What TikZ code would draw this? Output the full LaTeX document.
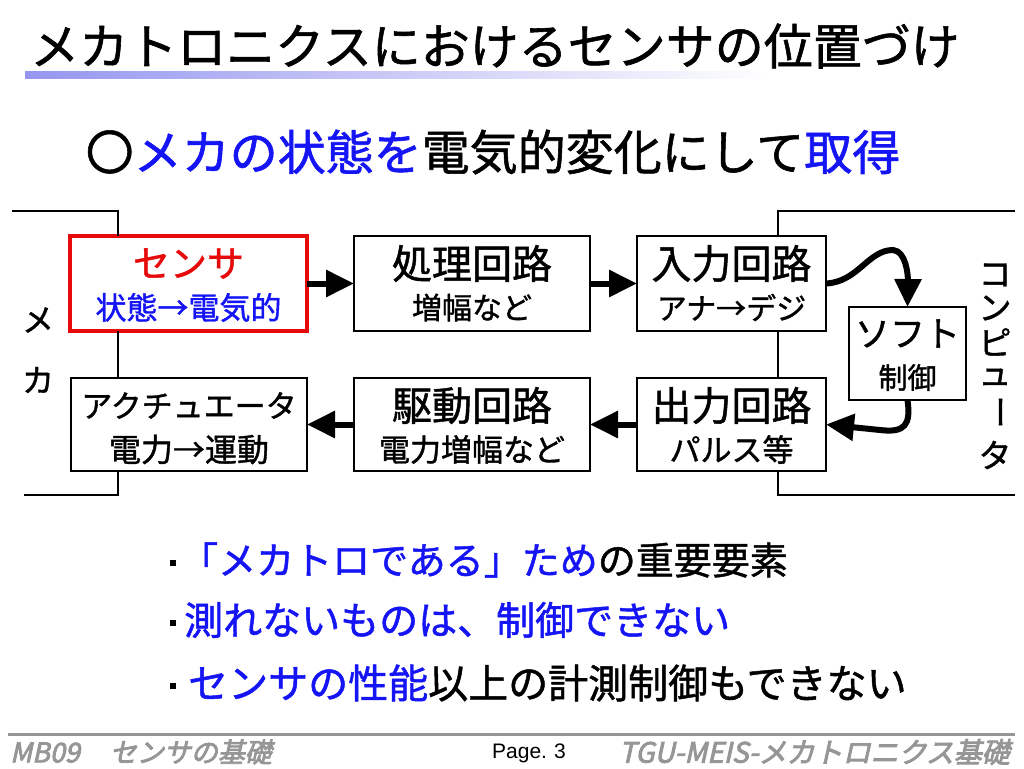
\documentclass[tikz,border=0pt]{standalone}
\usepackage{fontspec}
\setmainfont{Noto Sans CJK JP}[FakeBold=1.2]
\newfontfamily\footfont{Noto Sans CJK JP}[FakeSlant=0.22,FakeBold=3]
\newfontfamily\pagefont{Liberation Sans}
\usetikzlibrary{arrows.meta}
\definecolor{tblue}{RGB}{20,20,245}
\definecolor{tred}{RGB}{230,10,10}
\definecolor{fgray}{RGB}{150,150,150}
\definecolor{bar}{RGB}{150,150,240}
\newcommand{\fs}[1]{\fontsize{#1}{#1}\selectfont}
\begin{document}
\begin{tikzpicture}[x=1pt,y=-1pt,
  box/.style={draw,line width=2,inner sep=0,outer sep=0,minimum width=#1},
  brk/.style={line width=2},
  bigarr/.style={line width=6,-{Triangle[length=28,width=26]}},
  big/.style={inner sep=0,font=\fs{40}},
  small/.style={inner sep=0,font=\fs{30}},
  vt/.style={inner sep=0,font=\fs{33}}]
\useasboundingbox (0,0) rectangle (1024,768);
% title
\node[inner sep=0,font=\fs{49}] (title) at (495,46) {メカトロニクスにおけるセンサの位置づけ};
\shade[left color=bar,right color=white] (25,71) rectangle (770,78);
% subtitle
\node[inner sep=0,font=\fs{48}] (sub) at (493,152) {〇\textcolor{tblue}{メカの状態を}電気的変化にして\textcolor{tblue}{取得}};
% boxes
\node[box=237,minimum height=95,draw=tred,line width=3.5] (sen) at (188.5,283.5) {};
\node[box=236,minimum height=95] (proc) at (472,283.5) {};
\node[box=189,minimum height=95] (inp) at (731.5,283.5) {};
\node[box=117,minimum height=93] (soft) at (907.5,353.5) {};
\node[box=236,minimum height=93] (act) at (189,424.5) {};
\node[box=236,minimum height=93] (drv) at (472,424.5) {};
\node[box=189,minimum height=93] (out) at (731.5,424.5) {};
% box texts
\node[big,font=\fs{37},text=tred] (sen1) at ([yshift=20]sen.center) {センサ};
\node[small,font=\fs{31},text=tblue] (sen2) at ([yshift=-24]sen.center) {状態→電気的};
\node[big] (proc1) at ([yshift=20]proc.center) {処理回路};
\node[small] (proc2) at ([yshift=-24]proc.center) {増幅など};
\node[big] (inp1) at ([yshift=20]inp.center) {入力回路};
\node[small] (inp2) at ([yshift=-24]inp.center) {アナ→デジ};
\node[big,font=\fs{35}] (soft1) at ([yshift=20]soft.center) {ソフト};
\node[small,font=\fs{29}] (soft2) at ([yshift=-24]soft.center) {制御};
\node[small,font=\fs{31}] (act1) at ([yshift=19]act.center) {アクチュエータ};
\node[small,font=\fs{32}] (act2) at ([yshift=-25]act.center) {電力→運動};
\node[big] (drv1) at ([yshift=19]drv.center) {駆動回路};
\node[small,font=\fs{31}] (drv2) at ([yshift=-25]drv.center) {電力増幅など};
\node[big] (out1) at ([yshift=19]out.center) {出力回路};
\node[small,font=\fs{31}] (out2) at ([yshift=-25]out.center) {パルス等};
% brackets
\coordinate (m1) at (12,211);
\coordinate (m2) at (24,495);
\coordinate (mx) at (118,0);
\draw[brk] (m1) -| (sen.north -| mx);
\draw[brk] (sen.south -| mx) -- (act.north -| mx);
\draw[brk] (act.south -| mx) |- (m2);
\coordinate (c1) at (1015,211);
\coordinate (c2) at (1015,495);
\coordinate (cx) at (778,0);
\draw[brk] (c1) -| (inp.north -| cx);
\draw[brk] (inp.south -| cx) -- (out.north -| cx);
\draw[brk] (out.south -| cx) |- (c2);
% side labels
\node[vt,font=\fs{32}] (me) at (38,320) {メ};
\node[vt,font=\fs{32}] (ka) at (38,380) {カ};
\node[vt] (k1) at (995,275) {コ};
\node[vt] (k2) at (995,308) {ン};
\node[vt] (k3) at (995,342) {ピ};
\node[vt] (k4) at (995,377) {ュ};
\node[vt,rotate=-90] (k5) at (995,412) {ー};
\node[vt] (k6) at (995,455) {タ};
% arrows
\draw[bigarr] (sen.east) -- (proc.west);
\draw[bigarr] (proc.east) -- (inp.west);
\draw[bigarr] (out.west) -- (drv.east);
\draw[bigarr] (drv.west) -- (act.east);
\draw[bigarr] (inp.east) .. controls (858,282) and (868,250) .. (893,250) .. controls (906,251) and (908,275) .. (soft.north);
\draw[bigarr] (soft.south) .. controls (911,425) and (905,433) .. (880,430) -- (out.east);
% bullets
\node[fill=black,inner sep=0,minimum size=6] (b1) at (173,563) {};
\node[fill=black,inner sep=0,minimum size=6] (b2) at (173,623) {};
\node[fill=black,inner sep=0,minimum size=6] (b3) at (173,686) {};
\node[inner sep=0,anchor=west,font=\fs{38}] (l1) at (180,560) {\textcolor{tblue}{「メカトロである」ため}の重要要素};
\node[inner sep=0,anchor=west,font=\fs{39},text=tblue] (l2) at (184,620) {測れないものは、制御できない};
\node[inner sep=0,anchor=west,font=\fs{40}] (l3) at (188,683) {\textcolor{tblue}{センサの性能}以上の計測制御もできない};
% footer
\draw[fgray,line width=3] (8,734) -- (1015,734);
\node[inner sep=0,anchor=west,font=\footfont\fs{27},text=fgray] (f1) at (10,752) {MB09\hspace{30pt}センサの基礎};
\node[inner sep=0,anchor=west,font=\pagefont\fs{21}] (f2) at (492,753) {Page.\,\,3};
\node[inner sep=0,anchor=east,font=\footfont\fs{28},text=fgray] (f3) at (1010,752) {TGU-MEIS-メカトロニクス基礎};
\end{tikzpicture}
\end{document}
